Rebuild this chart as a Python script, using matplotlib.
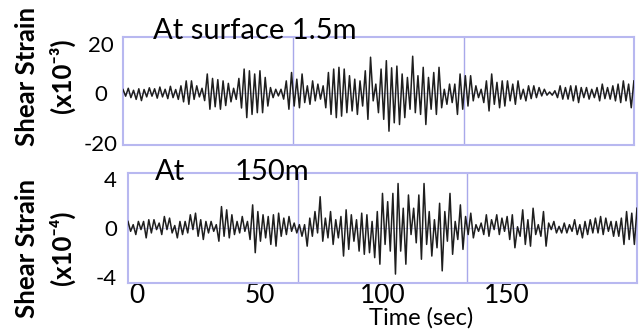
import numpy as np
import matplotlib.pyplot as plt

plt.rcParams['font.family'] = ['Lato', 'DejaVu Sans']
plt.rcParams['axes.unicode_minus'] = False

# shear strain at the surface (1.5 m), x10^-3, successive peaks/troughs
surface_strain = [
    1.5, -1.2, 2.0, -1.8, 1.2, -2.5, 1.8, -3.0, 1.5, -1.5, 2.2, -1.2, 1.8, -2.0, 2.5, -1.5,
    1.6, -2.2, 2.8, -1.8, 1.5, -2.5,
    3.0, -3.5, 5.0, -4.5, 5.0, -2.5, 3.0, -1.5, 2.0, -3.0, 7.8, -6.5, 6.0, -5.5, 5.5, -6.5,
    5.0, -5.0, 4.0, -3.5, 2.0, -2.5, 6.0, -6.0,
    9.8, -9.9, 9.1, -8.6, 7.8, -7.9, 9.1, -7.9, 6.4, -5.2, 2.3, -1.8, 1.6, -1.1, 1.6, -2.4,
    5.0, -6.5, 8.4, -5.2, 5.7, -5.9, 7.8, -3.8, 3.0, -4.5, 5.0, -3.1, 3.7, -2.4, 3.0, -5.9,
    8.4, -8.6, 9.8, -9.9, 10.5, -9.3, 9.8, -7.9, 7.1, -7.2, 5.7, -8.6, 5.0, -5.2, 9.1, -10.6,
    14.6,
    -3.1, 3.7, -7.9, 9.8, -10.6, 13.2, -15.4, 10.3, -12.0, 11.0, -12.7, 7.8, -9.9, 6.4, -6.5,
    15.0, -7.9, 7.1, -8.6, 10.5, -12.7, 6.4, -6.5, 8.4, -8.6, 10.5, -5.9, 1.6, -4.5, 3.7,
    -3.8, 3.7, -8.6, 7.8, -6.5, 7.1, -5.2, 7.1, -3.1, 3.0, -1.8, 1.6, -3.8, 5.0, -7.2, 7.8,
    -4.5,
    4.4, -5.9, 5.0, -5.2, 5.0, -3.1, 3.7, -4.5, 5.0, -2.4, 1.6, -3.1, 3.0, -2.2, 3.0, -1.8,
    2.3, -1.1, 1.6, -0.8, 0.5, -0.8, 1.0, -1.8, 3.0, -2.4, 2.3, -2.4, 3.0, -3.1, 3.0, -3.8,
    2.3, -1.8, 2.3, -2.4, 1.6, -1.8, 2.3, -3.1, 3.7, -2.2, 2.3, -2.4, 3.0, -3.1, 3.7, -3.8,
    5.0, -3.1, 3.7, -5.9, 5.0,
]

# shear strain at 150 m, x10^-4
deep_strain = [
    0.53, -0.27, 0.27, -0.53, 0.53, -0.13, 0.53, -0.8, 0.67, -0.4, 0.67, -0.13, 0.4, -0.53,
    0.93, -0.13, 0.8, -0.4, 0.2, -0.8, 0.53, -0.53, 0.53, -0.4, 1.07, -0.13, 1.2, -0.67,
    0.67, -0.93, 0.53, -0.4, 0.53, -0.27, 0.27, -1.07, 1.73, -0.67, 1.47, -0.8, 1.07, -0.53,
    0.53, -0.4, 0.93, -0.27, 0.53, -0.93, 1.87, -2.0,
    1.33, -1.07, 1.07, -0.8, 0.93, -1.33, 1.07, -1.47, 1.2, -0.67, 0.8, -0.53, 0.93, -0.27,
    0.4, -0.4, 0.27, -0.67, 0.27, -1.47, 0.8, -0.67, 1.33, -0.4, 2.53, -1.07, 0.8, -0.8,
    1.33, -1.33, 0.67, -0.8, 0.93, -2.27, 1.47, -1.73, 1.07, -1.07, 0.67, -1.87, 1.2, -2.13,
    1.07, -2.0, 0.53, -2.4, 1.33, -2.93, 2.8, -1.33, 2.13,
    -1.87, 2.8, -3.73, 3.6, -1.87, 1.6, -2.93, 2.67, -0.53, 1.6, -1.2, 2.67, -2.53, 3.6,
    -1.33, 1.33, -2.27, 0.67, -1.6, 2.0, -3.47, 1.33, -1.07, 2.8, -2.13, 0.53, -0.93, 1.87,
    -1.73, 0.93, -0.53, 1.2, -0.8, 0.27, -0.27, 0.4, -0.53, 1.07, -0.67, 0.67, -0.13, 1.07,
    -0.53, 0.8, -0.27, 0.93, -0.93,
    1.07, -1.6, 0.1, -0.67, 1.47, -1.33, 0.67, -1.47, 1.6, -0.53, 0.27, -0.67, 1.33, -1.47,
    0.4, -0.13, 0.53, -0.4, 0.13, -0.4, 0.4, -0.4, 0.27, -0.27, 0.67, -0.53, 0.27, -0.8,
    0.53, -0.53, 0.67, -0.4, 0.8, -0.4, 0.93, -0.53, 0.8, -0.27, 0.53, -0.67, 0.53, -0.67,
    0.8, -1.33, 1.33, -0.93, 1.2, -1.33, 1.6,
]

t_start, t_end = -3.4, 203.0
time_ticks = [0, 50, 100, 150]
surface_ticks = [20, 0, -20]
deep_ticks = [4, 0, -4]

frame_col = '#b8b8f0'
grid_col = '#a8a8ea'
line_col = '#1e1e1e'

fig = plt.figure(figsize=(6.41, 3.33), dpi=100)
ax1 = fig.add_axes([0.1919, 0.5646, 0.797, 0.3243])
ax2 = fig.add_axes([0.1997, 0.1502, 0.794, 0.3303])


def style(ax, series, ylim, yticks):
    t = np.linspace(t_start, t_end, len(series))
    ax.plot(t, series, color=line_col, lw=1.1, zorder=3)
    ax.set_xlim(t_start, t_end)
    ax.set_ylim(*ylim)
    span = t_end - t_start
    for k in (1, 2):
        ax.axvline(t_start + span * k / 3, color=grid_col, lw=1.0, zorder=1)
    ax.axhline(0, color='#ccccf2', lw=0.8, zorder=1)
    for s in ax.spines.values():
        s.set_color(frame_col)
        s.set_linewidth(1.5)
    ax.set_yticks(yticks)
    ax.tick_params(length=0, labelsize=16)


style(ax1, surface_strain, (-21.0, 22.8), surface_ticks)
style(ax2, deep_strain, (-4.45, 4.45), deep_ticks)

ax1.set_xticks([])
for lab in ax1.get_yticklabels():
    lab.set_horizontalalignment('center')
ax1.tick_params(axis='y', pad=16)
ax2.tick_params(axis='y', pad=8)
ax2.set_xticks(time_ticks)
ax2.tick_params(axis='x', pad=0, labelsize=19)

ax1.text(0.059, 0.985, 'At surface 1.5m', transform=ax1.transAxes,
         fontsize=21, va='baseline', ha='left', zorder=5)
ax2.text(0.053, 0.94, 'At', transform=ax2.transAxes,
         fontsize=21, va='baseline', ha='left', zorder=5)
ax2.text(0.21, 0.94, '150m', transform=ax2.transAxes,
         fontsize=21, va='baseline', ha='left', zorder=5)

fig.text(27 / 641, 1 - 76 / 333, 'Shear Strain', rotation=90, fontsize=18.5,
         fontweight='bold', ha='center', va='center')
fig.text(62 / 641, 1 - 76 / 333, '(x10\u207b\u00b3)', rotation=90, fontsize=18.5,
         fontweight='bold', ha='center', va='center')
fig.text(27 / 641, 1 - 248 / 333, 'Shear Strain', rotation=90, fontsize=18.5,
         fontweight='bold', ha='center', va='center')
fig.text(62 / 641, 1 - 248 / 333, '(x10\u207b\u2074)', rotation=90, fontsize=18.5,
         fontweight='bold', ha='center', va='center')

fig.text(421 / 641, 1 - 307 / 333, 'Time (sec)', fontsize=17, ha='center', va='top')

fig.savefig('out.png', dpi=100)
